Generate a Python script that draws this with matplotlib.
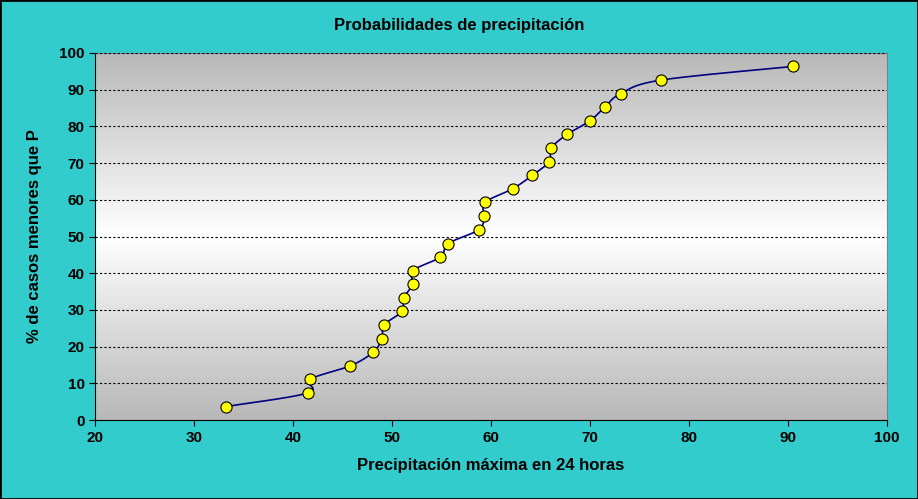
import numpy as np
import matplotlib
matplotlib.use("Agg")
import matplotlib.pyplot as plt
from matplotlib.colors import LinearSegmentedColormap

plt.rcParams["font.family"] = ["Liberation Sans", "DejaVu Sans"]
plt.rcParams["font.weight"] = "bold"

precip = [33.2, 41.5, 41.7, 45.8, 48.1, 49.0, 49.2, 51.0, 51.2, 52.1, 52.1,
          54.9, 55.7, 58.8, 59.3, 59.4, 62.2, 64.2, 65.9, 66.1, 67.7, 70.0,
          71.5, 73.1, 77.2, 90.5]
prob = [3.7, 7.4, 11.1, 14.8, 18.5, 22.2, 25.9, 29.6, 33.3, 37.0, 40.7,
        44.4, 48.1, 51.9, 55.6, 59.3, 63.0, 66.7, 70.4, 74.1, 77.8, 81.5,
        85.2, 88.9, 92.6, 96.3]


def smooth(xs, ys, n=20):
    # Catmull-Rom style curve through the points, like Excel's smoothed line
    p = np.column_stack([xs, ys])
    p = np.vstack([p[0], p, p[-1]])
    out = []
    t = np.linspace(0, 1, n)[:, None]
    for i in range(1, len(p) - 2):
        p0, p1, p2, p3 = p[i - 1], p[i], p[i + 1], p[i + 2]
        c1 = p1 + (p2 - p0) / 6
        c2 = p2 - (p3 - p1) / 6
        seg = ((1 - t) ** 3 * p1 + 3 * (1 - t) ** 2 * t * c1
               + 3 * (1 - t) * t ** 2 * c2 + t ** 3 * p2)
        out.append(seg)
    out = np.vstack(out)
    return out[:, 0], out[:, 1]


fig = plt.figure(figsize=(9.18, 4.99), dpi=100, facecolor="#33CCCC")
ax = fig.add_axes([0.1035, 0.158, 0.8625, 0.736])

cmap = LinearSegmentedColormap.from_list("bg", ["#FFFFFF", "#B8B8B8"])
grad = np.abs(np.linspace(-1, 1, 256))[:, None]
ax.imshow(grad, cmap=cmap, vmin=0, vmax=1, aspect="auto",
          extent=[20, 100, 0, 100], zorder=0)

ax.set_xlim(20, 100)
ax.set_ylim(0, 100)
ax.set_xticks(range(20, 101, 10))
ax.set_yticks(range(0, 101, 10))
ax.yaxis.grid(True, color="black", linestyle=(0, (2, 2)), linewidth=0.8)
ax.set_axisbelow(False)
for s in ax.spines.values():
    s.set_color("#808080")
ax.spines["left"].set_color("black")
ax.spines["bottom"].set_color("black")
ax.tick_params(labelsize=11, direction="out", length=4)

sx, sy = smooth(precip, prob)
ax.plot(sx, sy, color="#000080", linewidth=1.2, zorder=3)
ax.plot(precip, prob, "o", markerfacecolor="#FFFF00", markeredgecolor="#000000",
        markersize=8, markeredgewidth=0.8, zorder=4)

ax.set_xlabel("Precipitación máxima en 24 horas", fontsize=12, fontweight="bold",
              labelpad=10)
ax.set_ylabel("% de casos menores que P", fontsize=12, fontweight="bold",
              labelpad=12)
fig.text(0.5, 0.948, "Probabilidades de precipitación", ha="center",
         va="center", fontsize=12, fontweight="bold")

fig.add_artist(plt.Rectangle((0, 0), 1, 1, transform=fig.transFigure,
                             fill=False, edgecolor="black", linewidth=2))
fig.savefig("out.png", dpi=100, facecolor=fig.get_facecolor())
